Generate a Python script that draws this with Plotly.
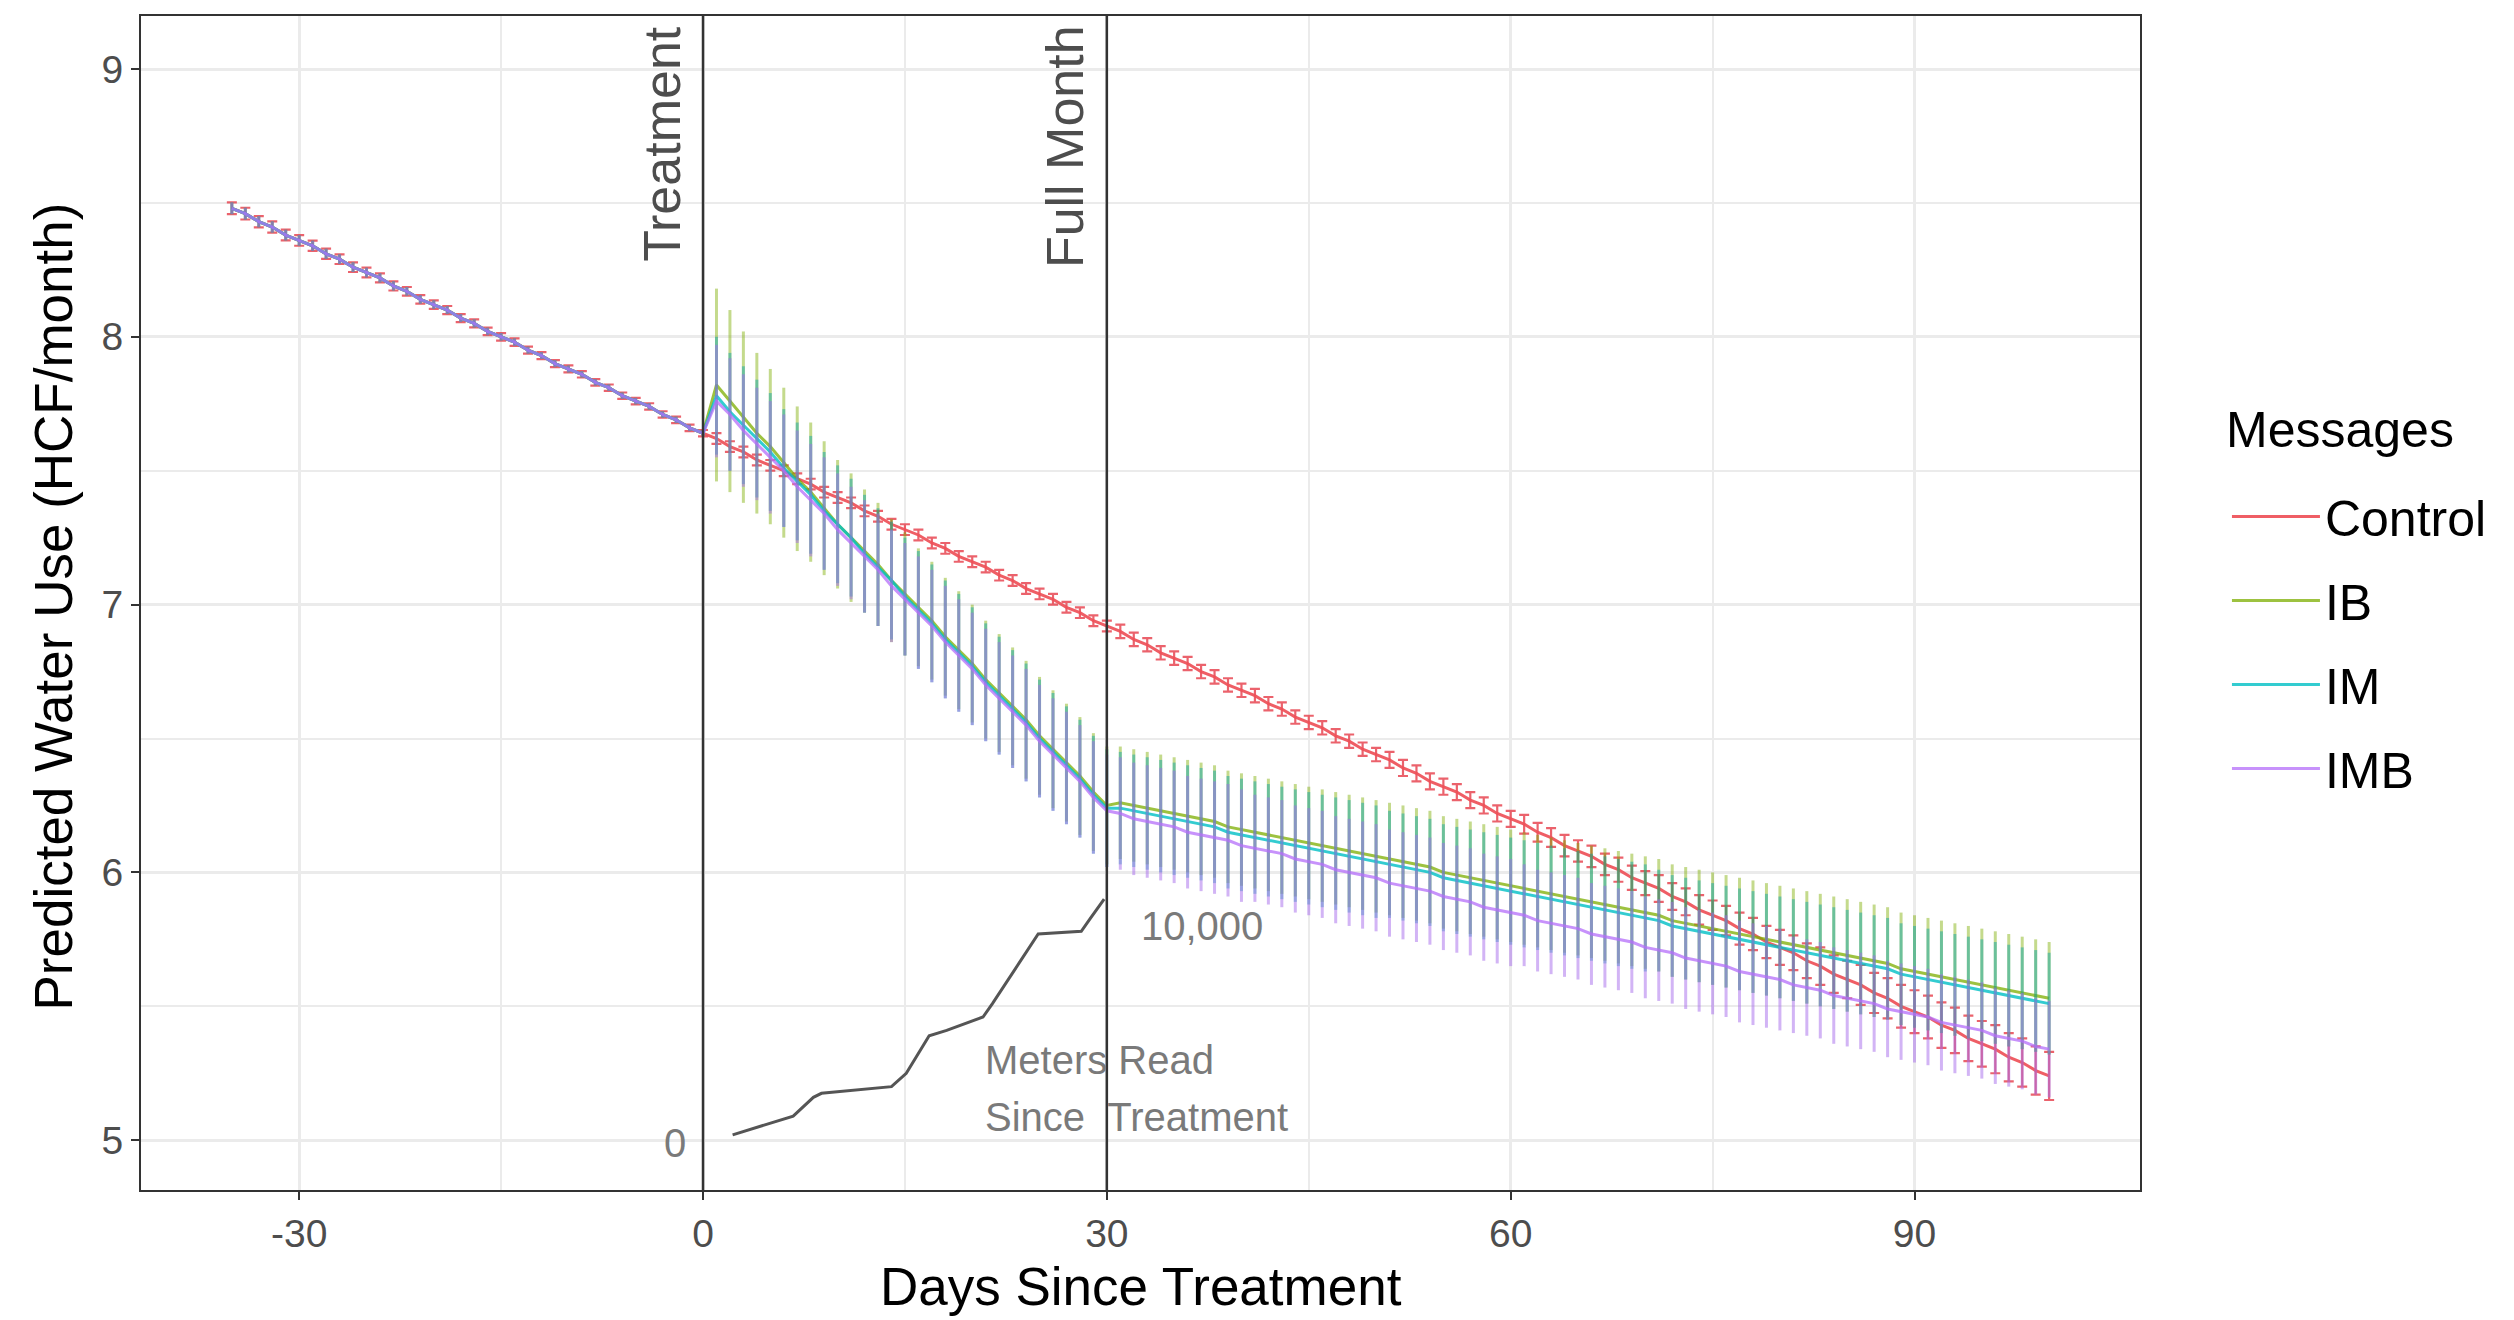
import plotly.graph_objects as go

# ---------------- data ----------------
days_pre = list(range(-35, 1))
days_post = list(range(1, 101))

# shared pre-treatment prediction (all groups overlap), days -35..0
pre_level = [8.48, 8.46, 8.43, 8.41, 8.38, 8.36, 8.34, 8.31, 8.29, 8.26,
             8.24, 8.22, 8.19, 8.17, 8.14, 8.12, 8.10, 8.07, 8.05, 8.02,
             8.00, 7.98, 7.95, 7.93, 7.90, 7.88, 7.86, 7.83, 7.81, 7.78,
             7.76, 7.74, 7.71, 7.69, 7.66, 7.64]
pre_err = [0.022, 0.022, 0.021, 0.021, 0.020, 0.020, 0.019, 0.019, 0.018, 0.018,
           0.018, 0.017, 0.017, 0.016, 0.016, 0.016, 0.015, 0.015, 0.015, 0.014,
           0.014, 0.014, 0.013, 0.013, 0.013, 0.013, 0.012, 0.012, 0.012, 0.012,
           0.012, 0.012, 0.012, 0.012, 0.012, 0.012]

control_post = [7.62, 7.59, 7.57, 7.54, 7.52, 7.50, 7.47, 7.45, 7.42, 7.40,
                7.38, 7.35, 7.33, 7.30, 7.28, 7.26, 7.23, 7.21, 7.18, 7.16,
                7.14, 7.11, 7.09, 7.06, 7.04, 7.02, 6.99, 6.97, 6.94, 6.92,
                6.90, 6.87, 6.85, 6.82, 6.80, 6.78, 6.75, 6.73, 6.70, 6.68,
                6.66, 6.63, 6.61, 6.58, 6.56, 6.54, 6.51, 6.49, 6.46, 6.44,
                6.42, 6.39, 6.37, 6.34, 6.32, 6.30, 6.27, 6.25, 6.22, 6.20,
                6.18, 6.15, 6.13, 6.10, 6.08, 6.06, 6.03, 6.01, 5.98, 5.96,
                5.94, 5.91, 5.89, 5.86, 5.84, 5.82, 5.79, 5.77, 5.74, 5.72,
                5.70, 5.67, 5.65, 5.62, 5.60, 5.58, 5.55, 5.53, 5.50, 5.48,
                5.46, 5.43, 5.41, 5.38, 5.36, 5.34, 5.31, 5.29, 5.26, 5.24]
control_err = [0.02, 0.02, 0.02, 0.02, 0.02, 0.02, 0.02, 0.02, 0.02, 0.02,
               0.02, 0.02, 0.02, 0.02, 0.02, 0.02, 0.02, 0.02, 0.02, 0.02,
               0.02, 0.02, 0.02, 0.02, 0.02, 0.02, 0.02, 0.02, 0.02, 0.02,
               0.025, 0.025, 0.025, 0.025, 0.025, 0.025, 0.025, 0.025, 0.025, 0.025,
               0.025, 0.025, 0.025, 0.025, 0.025, 0.025, 0.025, 0.025, 0.025, 0.025,
               0.03, 0.03, 0.03, 0.03, 0.03, 0.03, 0.03, 0.03, 0.03, 0.03,
               0.035, 0.035, 0.035, 0.04, 0.04, 0.04, 0.04, 0.045, 0.045, 0.045,
               0.05, 0.05, 0.05, 0.055, 0.055, 0.055, 0.06, 0.06, 0.06, 0.065,
               0.065, 0.065, 0.07, 0.07, 0.07, 0.075, 0.075, 0.075, 0.08, 0.08,
               0.08, 0.085, 0.085, 0.085, 0.085, 0.09, 0.09, 0.09, 0.09, 0.09]

ib_post = [7.82, 7.76, 7.70, 7.64, 7.59, 7.53, 7.47, 7.42, 7.36, 7.30,
           7.25, 7.20, 7.15, 7.09, 7.04, 6.99, 6.94, 6.88, 6.83, 6.78,
           6.72, 6.67, 6.62, 6.57, 6.51, 6.46, 6.41, 6.36, 6.30, 6.25,
           6.26, 6.25, 6.24, 6.23, 6.22, 6.21, 6.20, 6.19, 6.17, 6.16,
           6.15, 6.14, 6.13, 6.12, 6.11, 6.10, 6.09, 6.08, 6.07, 6.06,
           6.05, 6.04, 6.03, 6.02, 6.00, 5.99, 5.98, 5.97, 5.96, 5.95,
           5.94, 5.93, 5.92, 5.91, 5.90, 5.89, 5.88, 5.87, 5.86, 5.85,
           5.84, 5.82, 5.81, 5.80, 5.79, 5.78, 5.77, 5.76, 5.75, 5.74,
           5.73, 5.72, 5.71, 5.70, 5.69, 5.68, 5.67, 5.66, 5.64, 5.63,
           5.62, 5.61, 5.60, 5.59, 5.58, 5.57, 5.56, 5.55, 5.54, 5.53]
ib_err = [0.36, 0.34, 0.32, 0.30, 0.29, 0.28, 0.27, 0.26, 0.25, 0.24,
          0.24, 0.23, 0.23, 0.23, 0.23, 0.22, 0.22, 0.22, 0.22, 0.22,
          0.22, 0.22, 0.22, 0.22, 0.22, 0.22, 0.22, 0.22, 0.22, 0.22,
          0.21, 0.21, 0.21, 0.21, 0.21, 0.21, 0.21, 0.21, 0.21, 0.21,
          0.21, 0.21, 0.21, 0.21, 0.21, 0.21, 0.21, 0.21, 0.21, 0.21,
          0.21, 0.21, 0.21, 0.21, 0.21, 0.21, 0.21, 0.21, 0.21, 0.21,
          0.21, 0.21, 0.21, 0.21, 0.21, 0.21, 0.21, 0.21, 0.21, 0.21,
          0.21, 0.21, 0.21, 0.21, 0.21, 0.21, 0.21, 0.21, 0.21, 0.21,
          0.21, 0.21, 0.21, 0.21, 0.21, 0.21, 0.21, 0.21, 0.21, 0.21,
          0.21, 0.21, 0.21, 0.21, 0.21, 0.21, 0.21, 0.21, 0.21, 0.21]

im_post = [7.78, 7.72, 7.67, 7.62, 7.57, 7.51, 7.46, 7.41, 7.35, 7.30,
           7.25, 7.19, 7.14, 7.09, 7.03, 6.98, 6.93, 6.87, 6.82, 6.77,
           6.71, 6.66, 6.61, 6.56, 6.50, 6.45, 6.40, 6.35, 6.29, 6.24,
           6.24, 6.23, 6.22, 6.21, 6.20, 6.19, 6.18, 6.17, 6.15, 6.14,
           6.13, 6.12, 6.11, 6.10, 6.09, 6.08, 6.07, 6.06, 6.05, 6.04,
           6.03, 6.02, 6.01, 6.00, 5.98, 5.97, 5.96, 5.95, 5.94, 5.93,
           5.92, 5.91, 5.90, 5.89, 5.88, 5.87, 5.86, 5.85, 5.84, 5.83,
           5.82, 5.80, 5.79, 5.78, 5.77, 5.76, 5.75, 5.74, 5.73, 5.72,
           5.71, 5.70, 5.69, 5.68, 5.67, 5.66, 5.65, 5.64, 5.62, 5.61,
           5.60, 5.59, 5.58, 5.57, 5.56, 5.55, 5.54, 5.53, 5.52, 5.51]
im_err = [0.22, 0.22, 0.22, 0.22, 0.22, 0.22, 0.22, 0.22, 0.22, 0.22,
          0.22, 0.22, 0.22, 0.22, 0.22, 0.22, 0.22, 0.22, 0.22, 0.22,
          0.22, 0.22, 0.22, 0.22, 0.22, 0.22, 0.22, 0.22, 0.22, 0.22,
          0.21, 0.21, 0.21, 0.21, 0.21, 0.21, 0.21, 0.21, 0.21, 0.21,
          0.21, 0.21, 0.21, 0.21, 0.21, 0.21, 0.21, 0.21, 0.21, 0.21,
          0.20, 0.20, 0.20, 0.20, 0.20, 0.20, 0.20, 0.20, 0.20, 0.20,
          0.20, 0.20, 0.20, 0.20, 0.20, 0.20, 0.20, 0.20, 0.20, 0.20,
          0.19, 0.19, 0.19, 0.19, 0.19, 0.19, 0.19, 0.19, 0.19, 0.19,
          0.19, 0.19, 0.19, 0.19, 0.19, 0.19, 0.19, 0.19, 0.19, 0.19,
          0.19, 0.19, 0.19, 0.19, 0.19, 0.19, 0.19, 0.19, 0.19, 0.19]

imb_post = [7.76, 7.71, 7.65, 7.60, 7.55, 7.50, 7.44, 7.39, 7.34, 7.28,
            7.23, 7.18, 7.13, 7.07, 7.02, 6.97, 6.92, 6.86, 6.81, 6.76,
            6.70, 6.65, 6.60, 6.55, 6.49, 6.44, 6.39, 6.34, 6.28, 6.23,
            6.22, 6.20, 6.19, 6.18, 6.17, 6.15, 6.14, 6.13, 6.12, 6.10,
            6.09, 6.08, 6.07, 6.05, 6.04, 6.03, 6.01, 6.00, 5.99, 5.98,
            5.96, 5.95, 5.94, 5.93, 5.91, 5.90, 5.89, 5.87, 5.86, 5.85,
            5.84, 5.82, 5.81, 5.80, 5.79, 5.77, 5.76, 5.75, 5.74, 5.72,
            5.71, 5.70, 5.68, 5.67, 5.66, 5.65, 5.63, 5.62, 5.61, 5.60,
            5.58, 5.57, 5.56, 5.54, 5.53, 5.52, 5.51, 5.49, 5.48, 5.47,
            5.46, 5.44, 5.43, 5.42, 5.41, 5.39, 5.38, 5.37, 5.35, 5.34]
imb_err = [0.21, 0.21, 0.21, 0.21, 0.21, 0.21, 0.21, 0.21, 0.21, 0.21,
           0.21, 0.21, 0.21, 0.21, 0.21, 0.21, 0.21, 0.21, 0.21, 0.21,
           0.21, 0.21, 0.21, 0.21, 0.21, 0.21, 0.21, 0.21, 0.21, 0.21,
           0.21, 0.21, 0.21, 0.21, 0.21, 0.21, 0.21, 0.21, 0.21, 0.21,
           0.20, 0.20, 0.20, 0.20, 0.20, 0.20, 0.20, 0.20, 0.20, 0.20,
           0.20, 0.20, 0.20, 0.20, 0.20, 0.20, 0.20, 0.20, 0.20, 0.20,
           0.19, 0.19, 0.19, 0.19, 0.19, 0.19, 0.19, 0.19, 0.19, 0.19,
           0.19, 0.19, 0.19, 0.19, 0.19, 0.19, 0.19, 0.19, 0.19, 0.19,
           0.18, 0.18, 0.18, 0.18, 0.18, 0.18, 0.18, 0.18, 0.18, 0.18,
           0.18, 0.18, 0.18, 0.18, 0.18, 0.18, 0.18, 0.18, 0.18, 0.18]

# inset: cumulative meters read since treatment (drawn in plot units)
meter_days = [2.2, 6.7, 8.2, 8.8, 14.0, 15.1, 16.8, 18.1, 20.8, 21.5, 24.9, 28.1, 28.8, 29.8]
meter_level = [5.02, 5.09, 5.16, 5.175, 5.20, 5.25, 5.39, 5.41, 5.46, 5.51, 5.77, 5.78, 5.83, 5.90]

event_days = [0, 30]
event_labels = ["Treatment", "Full Month"]

x_ticks = [-30, 0, 30, 60, 90]
y_ticks = [5, 6, 7, 8, 9]

group_names = ["Control", "IB", "IM", "IMB"]
group_post = [control_post, ib_post, im_post, imb_post]
group_err = [control_err, ib_err, im_err, imb_err]

# ---------------- styling ----------------
FONT = "Liberation Sans, Arial, Helvetica, sans-serif"
line_colors = {
    "Control": "rgba(238,80,88,0.92)",
    "IB": "rgba(124,174,0,0.75)",
    "IM": "rgba(0,191,196,0.8)",
    "IMB": "rgba(180,110,250,0.75)",
}
err_colors = {
    "Control": "rgba(232,70,82,0.85)",
    "IB": "rgba(124,174,0,0.45)",
    "IM": "rgba(0,160,170,0.45)",
    "IMB": "rgba(165,105,235,0.5)",
}

# page body has an 8px margin; the figure is sized to fit the window
FIG_W, FIG_H = 2506, 1312
M_L, M_T, M_R, M_B = 133, 8, 374, 130

fig = go.Figure()

for rank, (name, post, err) in enumerate(zip(group_names, group_post, group_err)):
    is_ctrl = name == "Control"
    fig.add_trace(go.Scatter(
        x=days_pre + days_post,
        y=pre_level + post,
        mode="lines",
        name=name,
        legendrank=rank + 1,
        legendgroup=name,
        line=dict(color=line_colors[name], width=3),
        error_y=dict(type="data", array=pre_err + err, visible=True,
                     color=err_colors[name],
                     thickness=2.2 if is_ctrl else 3,
                     width=5 if is_ctrl else 0),
    ))

fig.add_trace(go.Scatter(
    x=meter_days, y=meter_level, mode="lines", showlegend=False,
    line=dict(color="#555555", width=3), hoverinfo="skip",
))

# event lines
for d in event_days:
    fig.add_shape(type="line", xref="x", yref="paper", x0=d, x1=d, y0=0, y1=1,
                  line=dict(color="#333333", width=2.5), layer="above")

annotations = []
for d, lab in zip(event_days, event_labels):
    annotations.append(dict(x=d - 3.1, y=9.17, xref="x", yref="y", text=lab,
                            textangle=-90, xanchor="center", yanchor="top",
                            showarrow=False,
                            font=dict(family=FONT, size=52, color="#4d4d4d")))

gray_txt = dict(family=FONT, size=40, color="#7a7a7a")
annotations += [
    dict(x=20.8, y=5.30, xref="x", yref="y", text="Meters Read", xanchor="left",
         yanchor="middle", showarrow=False, font=gray_txt),
    dict(x=20.8, y=5.085, xref="x", yref="y", text="Since\u00a0\u00a0Treatment",
         xanchor="left", yanchor="middle", showarrow=False, font=gray_txt),
    dict(x=32.4, y=5.80, xref="x", yref="y", text="10,000", xanchor="left",
         yanchor="middle", showarrow=False, font=gray_txt),
    dict(x=-1.1, y=4.99, xref="x", yref="y", text="0", xanchor="right",
         yanchor="middle", showarrow=False, font=gray_txt),
    # axis titles
    dict(x=0.5, y=-0.0826, xref="paper", yref="paper", text="Days Since Treatment",
         xanchor="center", yanchor="middle", showarrow=False,
         font=dict(family=FONT, size=53, color="black")),
    dict(x=-0.044, y=0.497, xref="paper", yref="paper",
         text="Predicted Water Use (HCF/month)", textangle=-90,
         xanchor="center", yanchor="middle", showarrow=False,
         font=dict(family=FONT, size=53, color="black")),
    # legend title
    dict(x=1.042, y=0.6474, xref="paper", yref="paper", text="Messages",
         xanchor="left", yanchor="middle", showarrow=False,
         font=dict(family=FONT, size=50, color="black")),
]

axis_common = dict(
    showline=True, linecolor="#333333", linewidth=2, mirror=True,
    ticks="outside", ticklen=8, tickwidth=2, tickcolor="#333333",
    showgrid=True, gridcolor="#EBEBEB", gridwidth=3,
    zeroline=False,
    tickfont=dict(family=FONT, size=39, color="#4d4d4d"),
)

fig.update_layout(
    width=FIG_W, height=FIG_H,
    margin=dict(l=M_L, r=M_R, t=M_T, b=M_B, autoexpand=False),
    paper_bgcolor="white", plot_bgcolor="white",
    font=dict(family=FONT),
    xaxis=dict(range=[-41.75, 106.75], tickmode="array", tickvals=x_ticks,
               ticktext=[str(v) for v in x_ticks],
               minor=dict(tickmode="array", tickvals=[-15, 15, 45, 75],
                          showgrid=True, gridcolor="#EBEBEB", gridwidth=1.5, ticks=""),
               **axis_common),
    yaxis=dict(range=[4.814, 9.198], tickmode="array", tickvals=y_ticks,
               ticktext=[str(v) for v in y_ticks],
               minor=dict(tickmode="array", tickvals=[5.5, 6.5, 7.5, 8.5],
                          showgrid=True, gridcolor="#EBEBEB", gridwidth=1.5, ticks=""),
               **axis_common),
    showlegend=True,
    legend=dict(
        x=1.0435, y=0.607, xanchor="left", yanchor="top",
        font=dict(family=FONT, size=50, color="black"),
        itemwidth=88,
        tracegroupgap=16, bgcolor="rgba(0,0,0,0)",
    ),
    annotations=annotations,
)

fig.write_html("out.html")
